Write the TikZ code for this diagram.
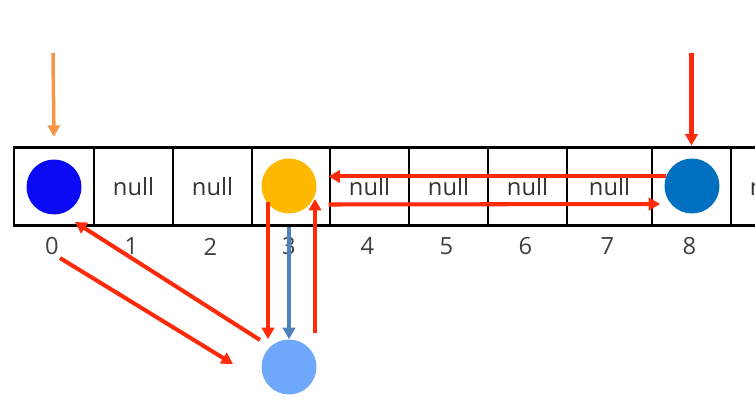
\documentclass[tikz,border=0pt]{standalone}
\usepackage{fontspec}
\setmainfont{Open Sans}
\usepackage{tikz}
\usetikzlibrary{arrows.meta, calc}
\definecolor{arrowred}{HTML}{FF2A0A}
\definecolor{headorange}{HTML}{F79646}
\definecolor{copyblue}{HTML}{4F81BD}
\definecolor{blue0}{HTML}{0A0AF5}
\definecolor{amber3}{HTML}{FFB800}
\definecolor{blue8}{HTML}{0070C0}
\definecolor{lightball}{HTML}{6FA8FA}
\definecolor{nullgray}{HTML}{333333}
\definecolor{idxgray}{HTML}{404040}

\begin{document}
\begin{tikzpicture}[
    x=0.02cm, y=-0.02cm,
    >={Triangle[length=6.5pt, width=7pt]},
    cell/.style={draw, line width=1.7pt, minimum height=1.58cm, inner sep=0pt, font=\fontsize{13.5}{15}\selectfont, text=nullgray},
    idx/.style={font=\fontsize{13.5}{15}\selectfont, text=idxgray},
    ball/.style={circle, minimum size=1.1cm, inner sep=0pt, fill=#1},
    link/.style={->, line width=2.3pt, arrowred},
]
    \useasboundingbox (0,0) rectangle (755,402);
    \clip (0,0) rectangle (755,402);

    % array cells
    \foreach \i/\l/\r/\t in {0/14/94/{}, 1/94/173/null, 2/173/252/null, 3/252/330/{},
                             4/330/409/null, 5/409/488/null, 6/488/567/null, 7/567/652/null,
                             8/652/731/{}, 9/731/810/null} {
        \node[cell, minimum width={(\r-\l)*0.02cm}] (c\i) at ({(\l+\r)/2}, 186.5) {\t};
    }
    % indices
    \foreach \i in {0,...,8} {
        \node[idx] (l\i) at ($(c\i.south)+(-2,19)$) {\i};
    }

    % elements
    \node[ball=blue0] (n0) at (54, 187) {};
    \node[ball=amber3] (n3) at (289, 186) {};
    \node[ball=blue8] (n8) at (692, 186) {};
    \node[ball=lightball] (nb) at (289, 367) {};

    % pointers from above
    \coordinate (p0) at (53, 53);
    \coordinate (p8) at (691.5, 53);
    \draw[->, line width=2pt, headorange, shorten >=5pt] (p0) -- (c0.north);
    \draw[link] (p8) -- (c8.north);

    % moves along the array
    \draw[link] (n8.160) -- (n8.160 -| c4.west);
    \draw[link] ($(c4.west)+(0,18)$) -- ($(n8.west)+(-4,18)$);

    % swap with the spare slot
    \draw[link] ($(n3.center)+(-21,16)$) -- ($(nb.north)+(-21,0)$);
    \draw[->, line width=2pt, copyblue] (nb.north |- c3.south) -- (nb.north);
    \draw[link] ($(nb.north)+(26,-6)$) -- ($(n3.center)+(26,13)$);
    \draw[link] ($(nb.center)+(-29,-27)$) -- ($(n0.center)+(21,35)$);
    \draw[link] ($(n0.center)+(6,71)$) -- ($(nb.center)+(-56,-3)$);
\end{tikzpicture}
\end{document}
